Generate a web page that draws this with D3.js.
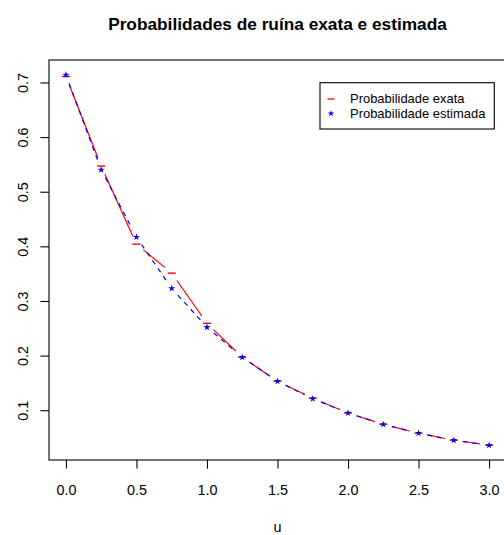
<!DOCTYPE html>
<html>
    <head>
        <meta charset="utf-8">
        <script src="https://d3js.org/d3.v7.min.js"></script>
        <style>
            body {
                margin: 0;
                background: #ffffff;
            }

            #ruin-svg .font {
                font-family: "Liberation Sans", Arial, Helvetica, sans-serif;
                fill: #000000;
            }

            #ruin-svg .title {
                font-size: 17.28px;
                font-weight: bold;
            }

            #ruin-svg .axis-label {
                font-size: 14.4px;
            }

            #ruin-svg .legend-text {
                font-size: 12.96px;
            }

            #ruin-svg .x-axis path,
            #ruin-svg .y-axis path,
            #ruin-svg .x-axis line,
            #ruin-svg .y-axis line {
                stroke: #000000;
                stroke-width: 1.1;
            }

            #ruin-svg .x-axis text,
            #ruin-svg .y-axis text {
                font-family: "Liberation Sans", Arial, Helvetica, sans-serif;
                font-size: 14.4px;
                fill: #000000;
            }

            #ruin-svg .exact-line {
                fill: none;
                stroke: #ff0000;
                stroke-width: 1.2;
            }

            #ruin-svg .estimated-line {
                fill: none;
                stroke: #0000ff;
                stroke-width: 1.2;
                stroke-dasharray: 4.8, 4.8;
            }
        </style>
    </head>
    <body>

        <script>

            const SVG_ID = "ruin-svg";
            const SVG_WIDTH = 504;
            const SVG_HEIGHT = 535;
            const PLOT_LEFT = 49;
            const PLOT_RIGHT = 506;
            const PLOT_TOP = 60;
            const PLOT_BOTTOM = 460;
            const TICK_LENGTH = 8.6;
            const POINT_GAP = 9;
            const PLOT_TITLE_TXT = "Probabilidades de ruína exata e estimada";
            const X_AXIS_LABEL = "u";

            // capital inicial u
            var uValues = [0, 0.25, 0.5, 0.75, 1.0, 1.25, 1.5, 1.75, 2.0, 2.25, 2.5, 2.75, 3.0];
            // probabilidade exata (vermelho) e estimada (azul)
            var exactValues = [0.711, 0.547, 0.404, 0.351, 0.259, 0.197, 0.153, 0.122, 0.095, 0.074, 0.058, 0.045, 0.036];
            var estimatedValues = [0.714, 0.540, 0.417, 0.323, 0.252, 0.197, 0.153, 0.121, 0.095, 0.074, 0.058, 0.045, 0.036];
            var xTicks = [0, 0.5, 1.0, 1.5, 2.0, 2.5, 3.0];
            var yTicks = [0.1, 0.2, 0.3, 0.4, 0.5, 0.6, 0.7];
            const LEGEND_LABELS = ["Probabilidade exata", "Probabilidade estimada"];

            // R style limits: data range extended by 4% on each side
            function rRange(values) {
                var ext = d3.extent(values);
                var pad = (ext[1] - ext[0]) * 0.04;
                return [ext[0] - pad, ext[1] + pad];
            }

            var svg = d3.select("body")
                .append("svg")
                .attr("width", SVG_WIDTH)
                .attr("height", SVG_HEIGHT)
                .attr("id", SVG_ID);

            var xAxisScale = d3.scaleLinear()
                .domain(rRange(uValues))
                .range([PLOT_LEFT, PLOT_RIGHT]);
            var yAxisScale = d3.scaleLinear()
                .domain(rRange(exactValues.concat(estimatedValues)))
                .range([PLOT_BOTTOM, PLOT_TOP]);

            // plot box
            svg.append("rect")
                .attr("x", PLOT_LEFT)
                .attr("y", PLOT_TOP)
                .attr("width", PLOT_RIGHT - PLOT_LEFT)
                .attr("height", PLOT_BOTTOM - PLOT_TOP)
                .attr("fill", "none")
                .attr("stroke", "#000000")
                .attr("stroke-width", 1.1);

            var xAxis = d3.axisBottom(xAxisScale)
                .tickValues(xTicks)
                .tickSize(TICK_LENGTH)
                .tickSizeOuter(0)
                .tickPadding(16)
                .tickFormat(d3.format(".1f"));
            var xAxisGroup = svg.append("g")
                .classed("x-axis", true)
                .attr("transform", "translate(0, " + PLOT_BOTTOM + ")")
                .call(xAxis);
            xAxisGroup.select(".domain").remove();
            xAxisGroup.selectAll(".tick text").attr("font-family", null).attr("font-size", null);

            var yAxis = d3.axisLeft(yAxisScale)
                .tickValues(yTicks)
                .tickSize(TICK_LENGTH)
                .tickSizeOuter(0)
                .tickFormat(d3.format(".1f"));
            var yAxisGroup = svg.append("g")
                .classed("y-axis", true)
                .attr("transform", "translate(" + PLOT_LEFT + ", 0)")
                .call(yAxis);
            yAxisGroup.select(".domain").remove();
            yAxisGroup.selectAll(".tick text")
                .attr("font-family", null)
                .attr("font-size", null)
                .attr("transform", "rotate(-90)")
                .attr("x", 0)
                .attr("y", -21.5)
                .attr("dy", null)
                .attr("text-anchor", "middle");

            svg.append("text")
                .attr("x", (PLOT_LEFT + PLOT_RIGHT) / 2)
                .attr("y", 30)
                .attr("text-anchor", "middle")
                .text(PLOT_TITLE_TXT)
                .classed("title font", true);

            svg.append("text")
                .attr("x", (PLOT_LEFT + PLOT_RIGHT) / 2)
                .attr("y", 532)
                .attr("text-anchor", "middle")
                .text(X_AXIS_LABEL)
                .classed("axis-label font", true);

            // type = "b": segments between points, cut short near each point
            function gappedSegments(ys) {
                var segs = [];
                for (var i = 0; i < uValues.length - 1; i++) {
                    var x0 = xAxisScale(uValues[i]), y0 = yAxisScale(ys[i]);
                    var x1 = xAxisScale(uValues[i + 1]), y1 = yAxisScale(ys[i + 1]);
                    var len = Math.hypot(x1 - x0, y1 - y0);
                    if (len <= 2 * POINT_GAP) {
                        continue;
                    }
                    var fx = (x1 - x0) / len, fy = (y1 - y0) / len;
                    segs.push([
                        [x0 + fx * POINT_GAP, y0 + fy * POINT_GAP],
                        [x1 - fx * POINT_GAP, y1 - fy * POINT_GAP]
                    ]);
                }
                return segs;
            }

            var segLine = d3.line();

            var dashPath = function(cx, cy) {
                return "M" + (cx - 4) + "," + cy + "H" + (cx + 4);
            };
            var star = d3.symbol().type(d3.symbolStar).size(16);

            // exact
            svg.append("g").selectAll("path")
                .data(gappedSegments(exactValues))
                .enter()
                .append("path")
                .classed("exact-line", true)
                .attr("d", segLine);
            svg.append("g").selectAll("path")
                .data(exactValues)
                .enter()
                .append("path")
                .attr("d", function(d, i) {
                    return dashPath(xAxisScale(uValues[i]), yAxisScale(d));
                })
                .attr("stroke", "#ff0000")
                .attr("stroke-width", 1.4);

            // estimated
            svg.append("g").selectAll("path")
                .data(gappedSegments(estimatedValues))
                .enter()
                .append("path")
                .classed("estimated-line", true)
                .attr("d", segLine);
            svg.append("g").selectAll("path")
                .data(estimatedValues)
                .enter()
                .append("path")
                .attr("d", star)
                .attr("transform", function(d, i) {
                    return "translate(" + xAxisScale(uValues[i]) + "," + yAxisScale(d) + ")";
                })
                .attr("fill", "#0000ff");

            // legend
            var legendGroup = svg.append("g");
            legendGroup.append("rect")
                .attr("x", 320)
                .attr("y", 82.7)
                .attr("width", 174.3)
                .attr("height", 46.3)
                .attr("fill", "#ffffff")
                .attr("stroke", "#000000")
                .attr("stroke-width", 1.1);
            legendGroup.selectAll(".legend-text")
                .data(LEGEND_LABELS)
                .enter()
                .append("text")
                .attr("x", 350)
                .attr("y", function(d, i) {
                    return 103.3 + i * 15;
                })
                .text(function(d) {
                    return d;
                })
                .classed("legend-text font", true);
            legendGroup.append("path")
                .attr("d", "M327.5,99H334.5")
                .attr("stroke", "#ff0000")
                .attr("stroke-width", 1.3);
            legendGroup.append("path")
                .attr("d", d3.symbol().type(d3.symbolStar).size(13))
                .attr("transform", "translate(331, 113.5)")
                .attr("fill", "#0000ff");
        </script>
    </body>
</html>
